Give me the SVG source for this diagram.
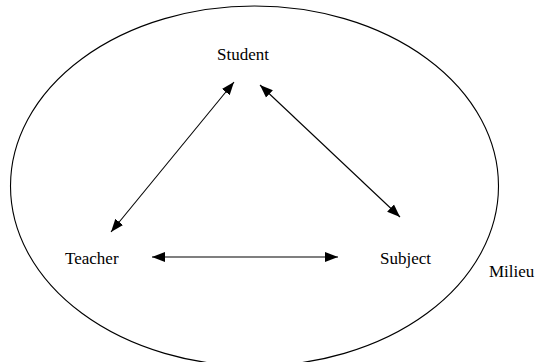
<svg xmlns="http://www.w3.org/2000/svg" width="538" height="362" viewBox="0 0 538 362">
<style>
text{font-family:"Liberation Serif","Times New Roman",serif;font-size:17px;fill:#000}
.c{stroke:#000;stroke-width:1.1;fill:none;marker-start:url(#ah);marker-end:url(#ah)}
</style>
<defs>
<marker id="ah" markerUnits="userSpaceOnUse" markerWidth="14" markerHeight="12" viewBox="0 0 14 12" refX="13" refY="6" orient="auto-start-reverse">
<path d="M0,1 L13,6 L0,11 Z" fill="#000"/>
</marker>
</defs>
<rect width="538" height="362" fill="#fff"/>
<g id="milieu">
<ellipse cx="254.5" cy="186" rx="244" ry="180" fill="none" stroke="#000" stroke-width="1.1"/>
<text x="489" y="277">Milieu</text>
</g>
<g id="student"><text x="217" y="60">Student</text></g>
<g id="teacher"><text x="65" y="264">Teacher</text></g>
<g id="subject"><text x="380" y="264">Subject</text></g>
<g id="connectors">
<line class="c" x1="111" y1="232" x2="234" y2="82"/>
<line class="c" x1="260" y1="85" x2="400" y2="217"/>
<line class="c" x1="152" y1="257" x2="338" y2="257"/>
</g>
</svg>
